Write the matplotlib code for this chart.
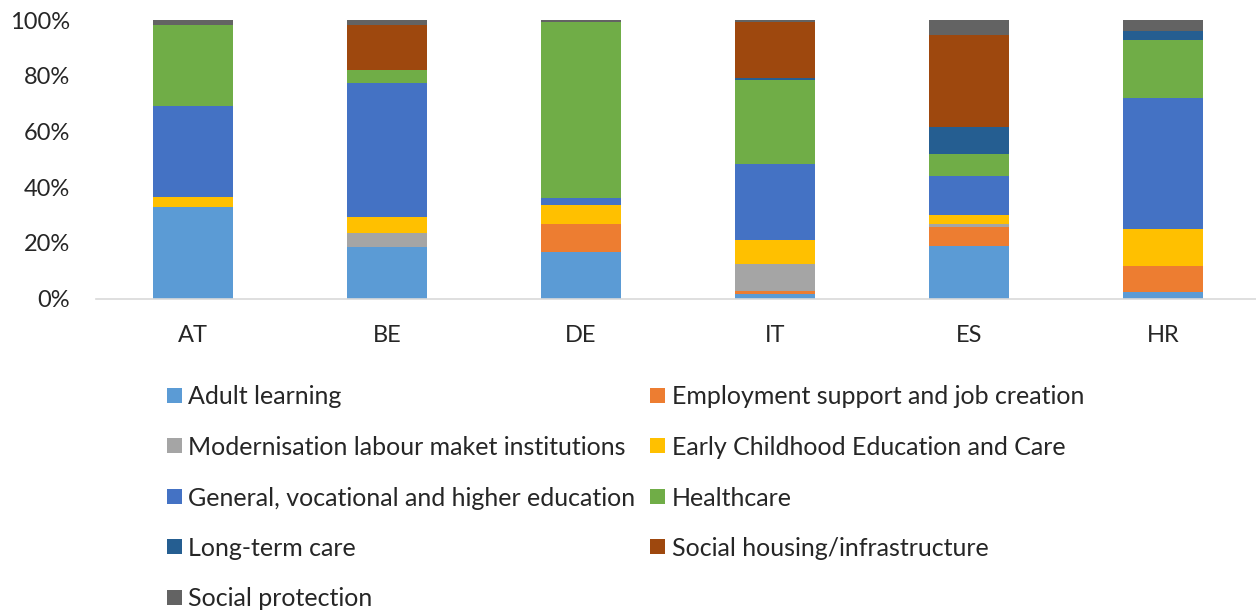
import matplotlib
matplotlib.use("Agg")
import matplotlib.pyplot as plt
from matplotlib.patches import Rectangle
import numpy as np

plt.rcParams['font.family'] = ['Lato', 'DejaVu Sans']

countries = ["AT", "BE", "DE", "IT", "ES", "HR"]
categories = [
    "Adult learning",
    "Employment support and job creation",
    "Modernisation labour maket institutions",
    "Early Childhood Education and Care",
    "General, vocational and higher education",
    "Healthcare",
    "Long-term care",
    "Social housing/infrastructure",
    "Social protection",
]
adult_learning = [32.9, 18.4, 16.6, 1.6, 19.0, 2.2]
employment_support = [0.0, 0.0, 10.1, 1.2, 6.7, 9.6]
modernisation_lmi = [0.0, 5.3, 0.0, 9.7, 1.2, 0.0]
early_childhood = [3.6, 5.6, 6.8, 8.6, 3.2, 13.3]
general_education = [32.6, 48.3, 2.7, 27.1, 14.1, 46.8]
healthcare = [29.2, 4.4, 63.3, 30.3, 7.6, 21.1]
long_term_care = [0.0, 0.0, 0.0, 0.6, 10.0, 3.0]
social_housing = [0.0, 16.4, 0.0, 20.4, 33.0, 0.0]
social_protection = [1.7, 1.6, 0.5, 0.5, 5.2, 4.0]

series = [adult_learning, employment_support, modernisation_lmi, early_childhood,
          general_education, healthcare, long_term_care, social_housing, social_protection]
colors = ["#5B9BD5", "#ED7D31", "#A5A5A5", "#FFC000", "#4472C4",
          "#70AD47", "#255E91", "#9E480E", "#636363"]

W, H = 1256, 611
fig = plt.figure(figsize=(W / 100, H / 100), dpi=100)
ax = fig.add_axes([96 / W, (H - 298.5) / H, 1164 / W, 278.2 / H])

x = np.arange(len(countries))
data = np.array(series, dtype=float)
totals = data.sum(axis=0)
bottom = np.zeros(len(countries))
for vals, col in zip(data, colors):
    frac = vals / totals
    ax.bar(x, frac, bottom=bottom, width=0.41, color=col, edgecolor='none')
    bottom += frac

ax.set_xlim(-0.5, len(countries) - 0.5)
ax.set_ylim(0, 1)
ax.set_yticks(np.linspace(0, 1, 6))
ax.set_yticklabels([f"{int(v)}%" for v in np.linspace(0, 100, 6)])
ax.set_xticks(x)
ax.set_xticklabels(countries)
ax.tick_params(axis='both', length=0, labelsize=17, colors='#262626')
ax.tick_params(axis='y', pad=18.7)
ax.tick_params(axis='x', pad=19)
for s in ['top', 'right', 'left']:
    ax.spines[s].set_visible(False)
ax.spines['bottom'].set_color('#D9D9D9')
ax.spines['bottom'].set_linewidth(1.2)

# Legend (two columns, row-major order), positions in pixels
col_x = [166.5, 650]
row_y0, row_dy = 395, 50.5
sq = 15
for i, (lab, col) in enumerate(zip(categories, colors)):
    r, c = divmod(i, 2)
    cx = col_x[c]
    cy = row_y0 + r * row_dy
    fig.patches.append(Rectangle((cx / W, (H - cy - sq / 2) / H), sq / W, sq / H,
                                 transform=fig.transFigure, facecolor=col,
                                 edgecolor='none'))
    fig.text((cx + sq + 7) / W, (H - cy) / H, lab, fontsize=18, color='#262626',
             ha='left', va='center_baseline')

fig.savefig("out.png", dpi=100, facecolor='white')
